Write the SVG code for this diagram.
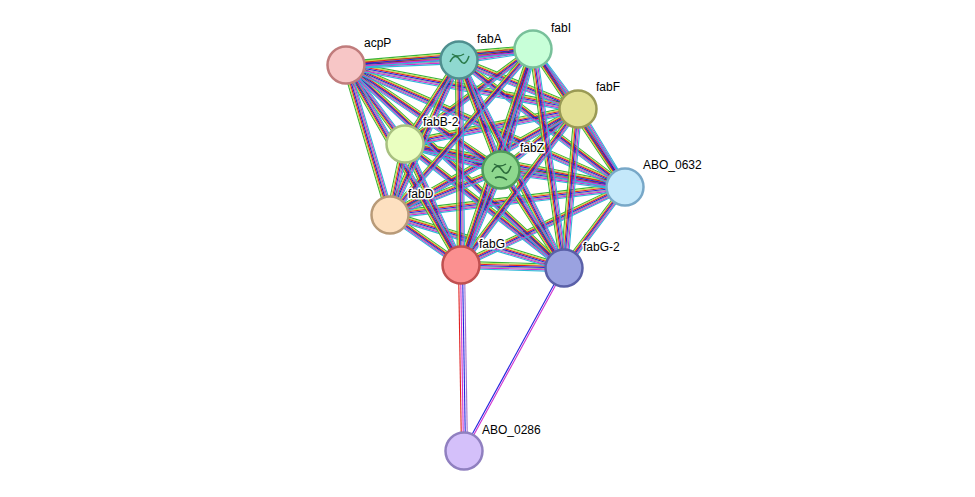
<svg xmlns="http://www.w3.org/2000/svg" xmlns:xlink="http://www.w3.org/1999/xlink" width="975" height="497" viewBox="0 0 975 497">
<style>
.lbl{font-family:"Liberation Sans",Arial,sans-serif;font-size:12px;fill:#000;paint-order:stroke;stroke:#fff;stroke-width:3px;stroke-linejoin:round}
.n{stroke-width:2.5}
.e{fill:none;stroke-width:1.1}
</style>
<rect width="975" height="497" fill="#fff"/>
<defs>
<path id="h" class="e" d="M346,65L459,60M346,65L533,49M346,65L578,109M346,65L501,170M346,65L625,187M346,65L564,268M459,60L533,49M459,60L578,109M459,60L625,187M533,49L405,144M578,109L405,144M578,109L501,170M578,109L390,215M405,144L501,170M405,144L625,187M405,144L564,268M501,170L625,187M501,170L390,215M625,187L390,215M625,187L461,265M390,215L461,265M390,215L564,268M461,265L564,268"/>
<path id="v" class="e" d="M346,65L405,144M346,65L390,215M346,65L461,265M459,60L405,144M459,60L501,170M459,60L390,215M459,60L461,265M459,60L564,268M533,49L578,109M533,49L501,170M533,49L390,215M533,49L461,265M533,49L564,268M533,49L625,187M578,109L625,187M578,109L461,265M578,109L564,268M405,144L390,215M405,144L461,265M501,170L461,265M501,170L564,268M625,187L564,268"/>
</defs>
<g id="connectors">
<use xlink:href="#h" stroke="#3bb33b" transform="translate(0,-3.6)"/>
<use xlink:href="#h" stroke="#c6d94a" transform="translate(0,-2.4)"/>
<use xlink:href="#h" stroke="#e02020" transform="translate(0,-1.2)"/>
<use xlink:href="#h" stroke="#2222dd"/>
<use xlink:href="#h" stroke="#333" transform="translate(0,1.2)" opacity="0.5"/>
<use xlink:href="#h" stroke="#d030d0" transform="translate(0,2.4)"/>
<use xlink:href="#h" stroke="#30b8d8" transform="translate(0,3.6)"/>
<use xlink:href="#v" stroke="#3bb33b" transform="translate(-3.6,0)"/>
<use xlink:href="#v" stroke="#c6d94a" transform="translate(-2.4,0)"/>
<use xlink:href="#v" stroke="#e02020" transform="translate(-1.2,0)"/>
<use xlink:href="#v" stroke="#2222dd"/>
<use xlink:href="#v" stroke="#333" transform="translate(1.2,0)" opacity="0.5"/>
<use xlink:href="#v" stroke="#d030d0" transform="translate(2.4,0)"/>
<use xlink:href="#v" stroke="#30b8d8" transform="translate(3.6,0)"/>
<g class="e">
<line x1="458.5" y1="265" x2="461.5" y2="451" stroke="#e02020"/>
<line x1="460.5" y1="265" x2="463.5" y2="451" stroke="#d030d0"/>
<line x1="462.5" y1="265" x2="465.5" y2="451" stroke="#2222dd"/>
<line x1="464.5" y1="265" x2="467.5" y2="451" stroke="#a070d0"/>
<line x1="563" y1="268" x2="463" y2="451" stroke="#2222dd"/>
<line x1="565" y1="268" x2="465" y2="451" stroke="#d030d0"/>
</g>
</g>
<g id="node-acpP"><circle class="n" cx="346" cy="65" r="18.5" fill="#f7c6c6" stroke="#c07c7c"/><text class="lbl" x="364" y="47">acpP</text></g>
<g id="node-fabA"><circle class="n" cx="459" cy="60" r="18.5" fill="#8fd8d0" stroke="#4f8f8f"/><path d="M450,62q5,-10 10,-2q5,8 9,-4M452,54q6,4 12,0" fill="none" stroke="#2a7a4a" stroke-width="1.5"/><text class="lbl" x="477" y="43">fabA</text></g>
<g id="node-fabI"><circle class="n" cx="533" cy="49" r="18.5" fill="#c8ffd8" stroke="#78c09a"/><text class="lbl" x="551" y="32">fabI</text></g>
<g id="node-fabF"><circle class="n" cx="578" cy="109" r="18.5" fill="#e2e095" stroke="#9a9a55"/><text class="lbl" x="596" y="91">fabF</text></g>
<g id="node-fabB-2"><circle class="n" cx="405" cy="144" r="18.5" fill="#eaffc0" stroke="#a8c080"/><text class="lbl" x="423" y="126">fabB-2</text></g>
<g id="node-fabZ"><circle class="n" cx="501" cy="170" r="18.5" fill="#8ed88e" stroke="#4f9a5a"/><path d="M492,172q5,-10 10,-2q5,8 9,-4M494,164q6,4 12,0M495,178q6,-3 12,2" fill="none" stroke="#2a6a3a" stroke-width="1.5"/><text class="lbl" x="520" y="152">fabZ</text></g>
<g id="node-ABO_0632"><circle class="n" cx="625" cy="187" r="18.5" fill="#c4e8fa" stroke="#78a8c8"/><text class="lbl" x="643" y="169">ABO_0632</text></g>
<g id="node-fabD"><circle class="n" cx="390" cy="215" r="18.5" fill="#fde0c0" stroke="#b89a78"/><text class="lbl" x="408" y="198">fabD</text></g>
<g id="node-fabG"><circle class="n" cx="461" cy="265" r="18.5" fill="#fb9090" stroke="#c05050"/><text class="lbl" x="479" y="248">fabG</text></g>
<g id="node-fabG-2"><circle class="n" cx="564" cy="268" r="18.5" fill="#9aa2e0" stroke="#5a60a8"/><text class="lbl" x="583" y="251">fabG-2</text></g>
<g id="node-ABO_0286"><circle class="n" cx="464" cy="451" r="18.5" fill="#d4c0fa" stroke="#9080c0"/><text class="lbl" x="482" y="434">ABO_0286</text></g>
</svg>
